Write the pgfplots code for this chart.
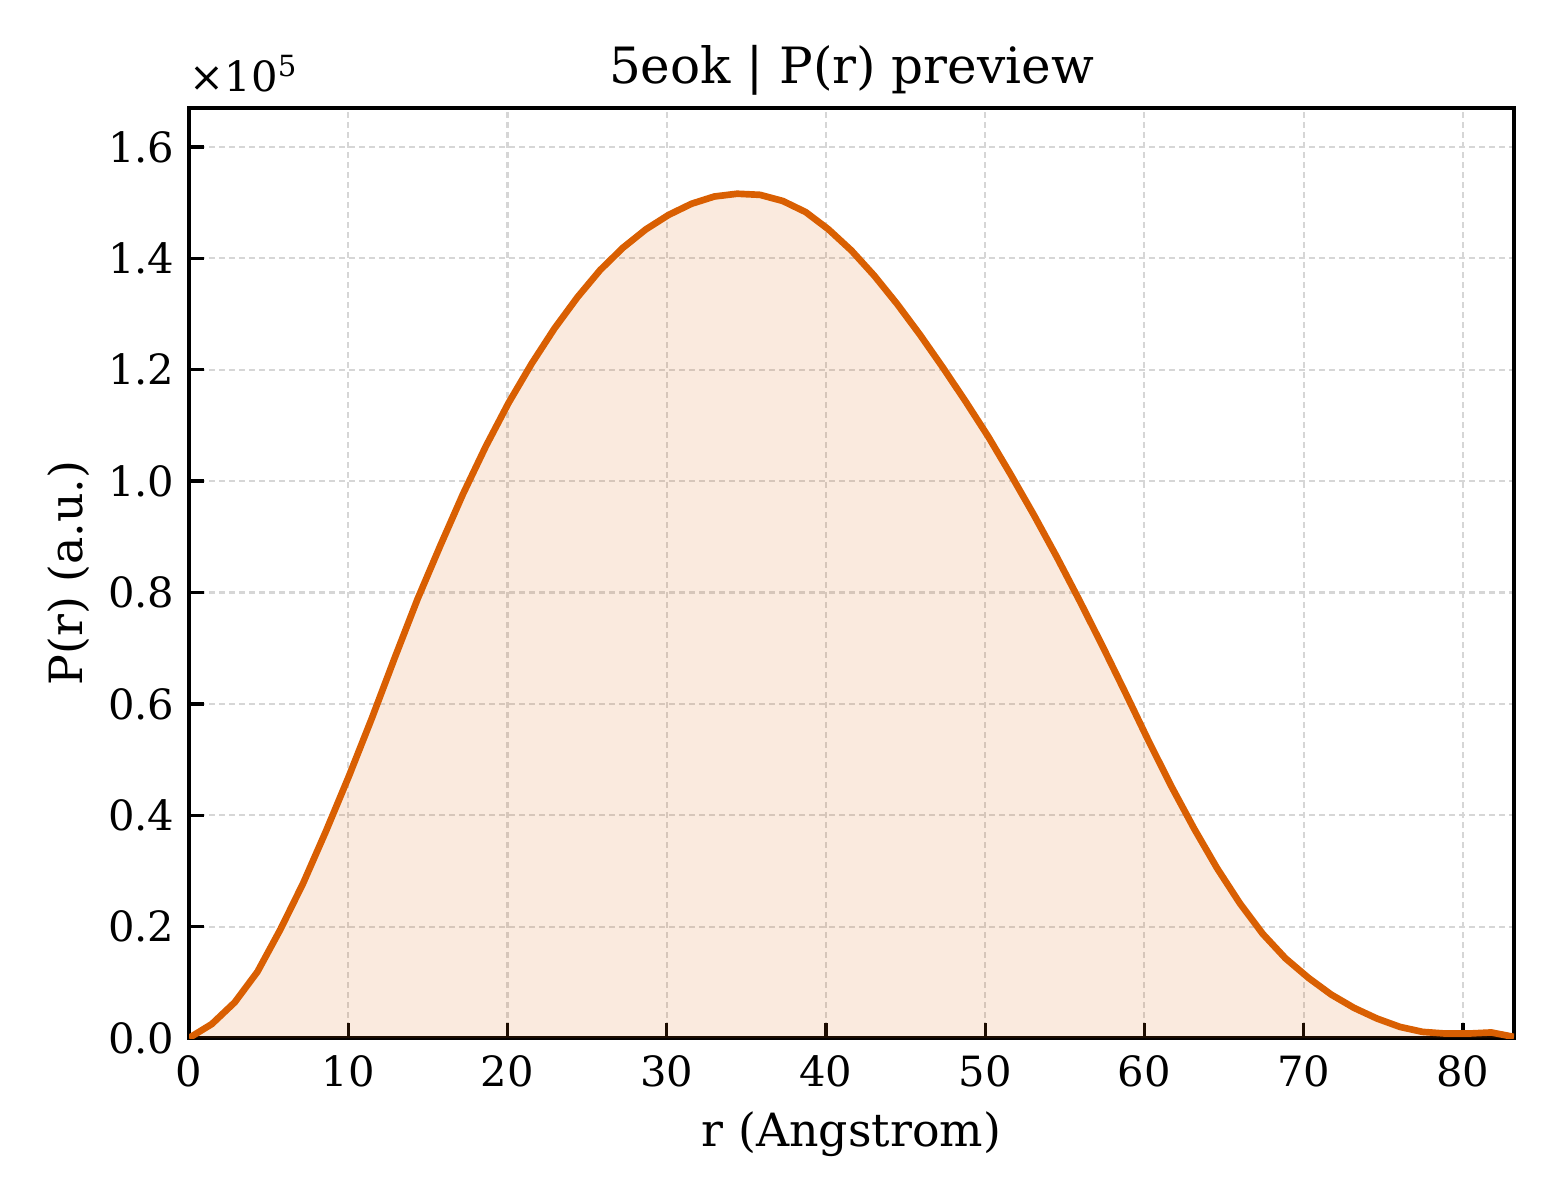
\documentclass[border=0pt]{standalone}
\usepackage{pgfplots}
\pgfplotsset{compat=1.18}
\usepackage{pgfplotstable}
\usepackage{fontspec}
\setmainfont{DejaVu Serif}
\definecolor{curve}{RGB}{217,95,2}
\definecolor{gridc}{RGB}{214,214,214}
\pgfplotstableread{
x y
0.00 0
1.43 2500
2.87 6400
4.30 11900
5.74 19500
7.17 27800
8.61 37200
10.04 47000
11.48 57400
12.91 68200
14.35 78800
15.78 88400
17.21 97700
18.65 106300
20.08 114100
21.52 121100
22.95 127400
24.39 133000
25.82 137900
27.25 141900
28.69 145200
30.12 147800
31.56 149800
32.99 151100
34.42 151600
35.86 151400
37.29 150300
38.73 148300
40.16 145200
41.60 141400
43.03 136900
44.47 131800
45.90 126300
47.34 120400
48.77 114300
50.21 107900
51.64 101000
53.08 93800
54.51 86300
55.95 78400
57.38 70300
58.82 61900
60.25 53400
61.69 45200
63.12 37600
64.56 30500
65.99 24200
67.43 18700
68.86 14300
70.30 10800
71.73 7800
73.17 5400
74.60 3500
76.04 2000
77.47 1100
78.91 800
80.34 800
81.78 1000
83.21 200
}\prdata
\begin{document}
\begin{tikzpicture}
\begin{axis}[
  name=main,
  scale only axis,
  width=318pt, height=223.2pt,
  xmin=0, xmax=83.21, ymin=0, ymax=167000,
  xtick={0,10,20,30,40,50,60,70,80},
  ytick={0,20000,40000,60000,80000,100000,120000,140000,160000},
  scaled y ticks=base 10:-5,
  ytick scale label code/.code={×10\textsuperscript{5}},
  every y tick scale label/.style={at={(rel axis cs:0,1)}, anchor=south west, inner sep=0pt, xshift=0pt, yshift=3.5pt, font=\fontsize{10}{12}\selectfont},
  yticklabel style={/pgf/number format/.cd, fixed, fixed zerofill, precision=1, /tikz/.cd},
  /pgf/number format/assume math mode=true,
  tick label style={font=\fontsize{10}{12}\selectfont},
  xticklabel style={yshift=-0.6pt},
  tick pos=left,
  tick align=inside,
  major tick length=3.6pt,
  every tick/.style={black, line width=0.8pt},
  axis line style={black, line width=1pt},
  grid=major,
  major grid style={gridc, line width=0.5pt, dash pattern=on 1.5pt off 0.9pt},
  xlabel={r (Angstrom)},
  ylabel={P(r) (a.u.)},
  every axis x label/.style={at={(rel axis cs:0.5,0)}, anchor=base, yshift=-26pt, font=\fontsize{11}{13}\selectfont},
  every axis y label/.style={at={(rel axis cs:0,0.5)}, rotate=90, anchor=base, yshift=25.5pt, font=\fontsize{11}{13}\selectfont},
  title={5eok | P(r) preview},
  every axis title/.style={at={(rel axis cs:0.5,1)}, anchor=base, yshift=5.9pt, font=\fontsize{12}{14}\selectfont},
]
\addplot[draw=none, fill=curve, fill opacity=0.13] table[x=x,y=y]{\prdata} \closedcycle;
\addplot[curve, line width=1.6pt, line join=round] table[x=x,y=y]{\prdata};
\end{axis}
\pgfresetboundingbox
\path ([shift={(-45.36pt,-38.88pt)}]main.south west) rectangle ([shift={(11.04pt,25.92pt)}]main.north east);
\end{tikzpicture}
\end{document}
